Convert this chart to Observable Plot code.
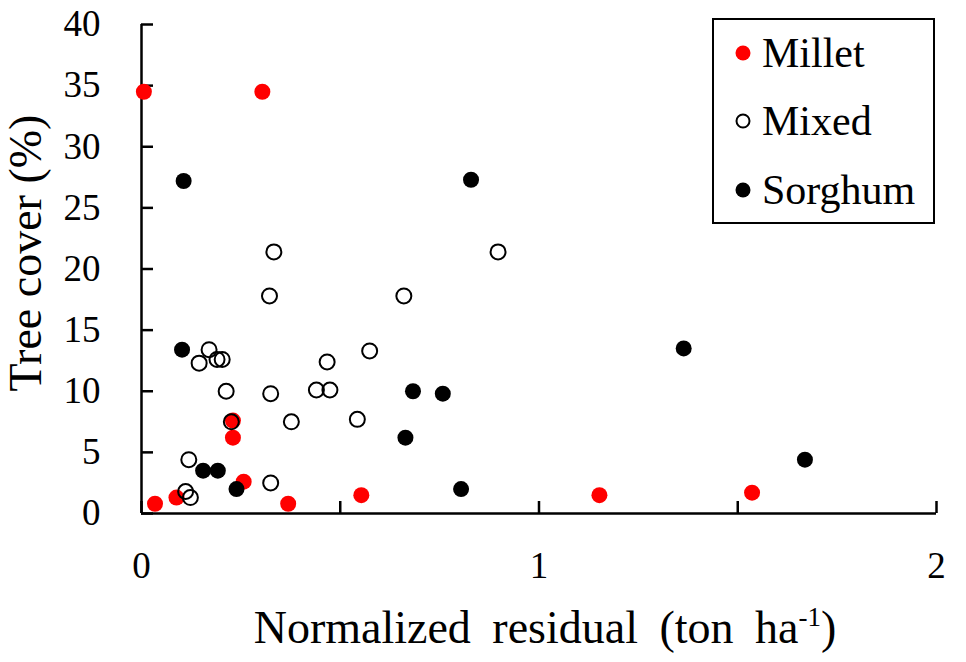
<!DOCTYPE html>
<html><head><meta charset="utf-8">
<script src="https://cdn.jsdelivr.net/npm/d3@7"></script>
<script src="https://cdn.jsdelivr.net/npm/@observablehq/plot@0.6"></script>
<style>
body{margin:0;background:#fff}
svg{display:block}
svg text, svg tspan{font-family:"Liberation Serif","Times New Roman",serif !important}
</style>
</head><body><div id="chart"></div>
<script>
const categories = ["Millet", "Mixed", "Sorghum"];
const milletX = [0.006, 0.304, 0.230, 0.230, 0.257, 0.088, 0.034, 0.369, 0.553, 1.152, 1.536];
const milletY = [34.5, 34.5, 7.6, 6.2, 2.6, 1.3, 0.8, 0.8, 1.5, 1.5, 1.7];
const mixedX = [0.322, 0.660, 0.333, 0.897, 0.170, 0.145, 0.190, 0.203, 0.467, 0.574, 0.213, 0.325, 0.440, 0.474, 0.226, 0.377, 0.543, 0.119, 0.325, 0.111, 0.123];
const mixedY = [17.8, 17.8, 21.4, 21.4, 13.4, 12.3, 12.6, 12.6, 12.4, 13.3, 10.0, 9.8, 10.1, 10.1, 7.5, 7.5, 7.7, 4.4, 2.5, 1.8, 1.3];
const sorghumX = [0.106, 0.829, 0.102, 0.683, 0.758, 0.664, 0.155, 0.192, 0.239, 0.804, 1.364, 1.669];
const sorghumY = [27.2, 27.3, 13.4, 10.0, 9.8, 6.2, 3.5, 3.5, 2.0, 2.0, 13.5, 4.4];
const xTicks = [0, 0.5, 1, 1.5, 2];
const xTickLabels = ["0", "", "1", "", "2"];
const yTicks = [0, 5, 10, 15, 20, 25, 30, 35, 40];
const xLabel = "Normalized residual (ton ha";
const yLabel = "Tree cover (%)";

const toRows = (xs, ys, c) => xs.map((x, i) => ({x, y: ys[i], c}));
const millet = toRows(milletX, milletY, categories[0]);
const mixed = toRows(mixedX, mixedY, categories[1]);
const sorghum = toRows(sorghumX, sorghumY, categories[2]);
const ff = "Liberation Serif, Times New Roman, serif";

const chart = Plot.plot({
  width: 966, height: 662,
  marginLeft: 141, marginRight: 30, marginTop: 24, marginBottom: 149,
  style: {fontFamily: ff, color: "#000", background: "#fff", overflow: "visible"},
  x: {domain: [0, 2]},
  y: {domain: [0, 40]},
  marks: [
    Plot.axisX({ticks: xTicks, tickFormat: (d) => xTickLabels[xTicks.indexOf(d)], tickSize: -12, tickPadding: 50, fontSize: 37, strokeWidth: 2.5, label: null}),
    Plot.axisY({ticks: yTicks, tickSize: -12, tickPadding: 53, fontSize: 37, strokeWidth: 2.5, label: null}),
    Plot.ruleX([0], {stroke: "#000", strokeWidth: 2.5}),
    Plot.ruleY([0], {stroke: "#000", strokeWidth: 2.5}),
    Plot.dot(millet, {x: "x", y: "y", r: 8, fill: "#ff0000"}),
    Plot.dot(mixed, {x: "x", y: "y", r: 7.5, stroke: "#000", strokeWidth: 2, fill: "none"}),
    Plot.dot(sorghum, {x: "x", y: "y", r: 8, fill: "#000"})
  ]
});
document.getElementById("chart").appendChild(chart);

const svg = d3.select(chart);
// x label
const xl = svg.append("text").attr("x", 545).attr("y", 643).attr("text-anchor", "middle")
  .attr("font-size", 46).attr("fill", "#000").attr("word-spacing", 10);
xl.append("tspan").text(xLabel);
xl.append("tspan").attr("dy", -17).attr("font-size", 27).text("-1");
xl.append("tspan").attr("dy", 17).attr("font-size", 46).text(")");
// y label
svg.append("text").attr("transform", "translate(41,253) rotate(-90)").attr("text-anchor", "middle")
  .attr("font-size", 46).attr("fill", "#000").text(yLabel);
// legend
const lg = svg.append("g").attr("text-anchor", "start");
lg.append("rect").attr("x", 713).attr("y", 19).attr("width", 221).attr("height", 204)
  .attr("fill", "#fff").attr("stroke", "#000").attr("stroke-width", 2);
const cy = [53, 121, 190];
const styles = [
  {fill: "#ff0000", stroke: "none", sw: 0, r: 7.5},
  {fill: "none", stroke: "#000", sw: 2, r: 6.5},
  {fill: "#000", stroke: "none", sw: 0, r: 7.5}
];
categories.forEach((c, i) => {
  lg.append("circle").attr("cx", 743).attr("cy", cy[i]).attr("r", styles[i].r)
    .attr("fill", styles[i].fill).attr("stroke", styles[i].stroke).attr("stroke-width", styles[i].sw);
  lg.append("text").attr("x", 762).attr("y", cy[i] + 14).attr("text-anchor", "start")
    .attr("font-size", 42).attr("fill", "#000").text(c);
});
</script></body></html>
